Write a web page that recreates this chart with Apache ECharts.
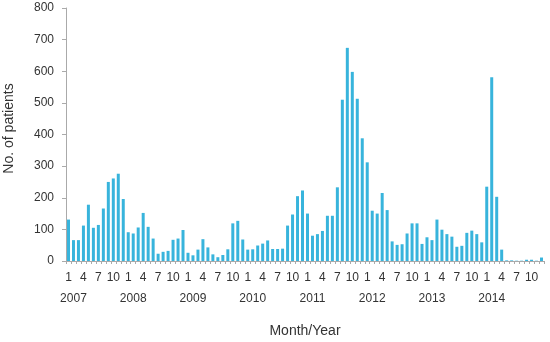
<!DOCTYPE html>
<html>
<head>
<meta charset="utf-8">
<script src="https://cdn.jsdelivr.net/npm/echarts@6/dist/echarts.min.js"></script>
<style>
  html, body { margin: 0; padding: 0; background: #fff; }
  #main { width: 550px; height: 342px; }
</style>
</head>
<body>
<div id="main"></div>
<script>
// monthly patients, Jan 2007 .. Dec 2014
const years = ['2007', '2008', '2009', '2010', '2011', '2012', '2013', '2014'];
const patients2007 = [131, 66, 66, 112, 178, 105, 114, 166, 250, 261, 276, 196];
const patients2008 = [91, 87, 106, 152, 108, 71, 23, 29, 32, 67, 71, 98];
const patients2009 = [26, 18, 36, 69, 43, 21, 12, 19, 37, 119, 127, 68];
const patients2010 = [36, 37, 49, 55, 65, 38, 38, 39, 112, 147, 205, 223];
const patients2011 = [150, 80, 85, 95, 143, 143, 233, 510, 674, 598, 513, 388];
const patients2012 = [312, 159, 150, 215, 161, 62, 51, 53, 87, 119, 119, 54];
const patients2013 = [75, 66, 131, 99, 85, 77, 45, 48, 89, 96, 85, 59];
const patients2014 = [235, 581, 203, 36, 2, 2, 1, 1, 4, 4, 1, 11];
const yTicks = [0, 100, 200, 300, 400, 500, 600, 700, 800];

const values = [].concat(patients2007, patients2008, patients2009, patients2010,
  patients2011, patients2012, patients2013, patients2014);
const months = [];
const yearCats = [];
years.forEach(function (y) {
  for (let m = 1; m <= 12; m++) {
    months.push(String(m));
    yearCats.push(y + '-' + m);
  }
});

const chart = echarts.init(document.getElementById('main'));
const font = 'Liberation Sans, Arial, sans-serif';

chart.setOption({
  animation: false,
  grid: { left: 66, right: 6, top: 8, bottom: 81, outerBoundsMode: 'none', containLabel: false },
  xAxis: [
    {
      type: 'category',
      data: months,
      name: 'Month/Year',
      nameLocation: 'middle',
      nameGap: 63,
      nameTextStyle: { color: '#333', fontSize: 14, fontFamily: font },
      axisLine: { lineStyle: { color: '#aaa' } },
      axisTick: { show: true, interval: 0, length: 3, lineStyle: { color: '#aaa' } },
      axisLabel: {
        interval: function (i) { return i % 3 === 0; },
        color: '#333', fontSize: 12, fontFamily: font, margin: 11
      }
    },
    {
      type: 'category',
      data: yearCats,
      position: 'bottom',
      offset: 0,
      axisLine: { show: false },
      axisTick: { show: false },
      axisLabel: {
        interval: function (i) { return i % 12 === 1; },
        formatter: function (v) { return v.split('-')[0]; },
        color: '#333', fontSize: 12, fontFamily: font, margin: 32
      }
    }
  ],
  yAxis: {
    type: 'value',
    min: yTicks[0],
    max: yTicks[yTicks.length - 1],
    interval: 100,
    name: 'No. of patients',
    nameLocation: 'middle',
    nameGap: 50,
    nameTextStyle: { color: '#333', fontSize: 14, fontFamily: font, padding: [0, 0, 0, 12] },
    axisLine: { show: true, lineStyle: { color: '#aaa' } },
    axisTick: { show: true, length: 4, lineStyle: { color: '#aaa' } },
    axisLabel: { color: '#333', fontSize: 12, fontFamily: font, margin: 12 },
    splitLine: { show: false }
  },
  series: [{
    type: 'bar',
    data: values,
    xAxisIndex: 0,
    barWidth: 3,
    itemStyle: { color: '#38b4dc' }
  }]
});
</script>
</body>
</html>
